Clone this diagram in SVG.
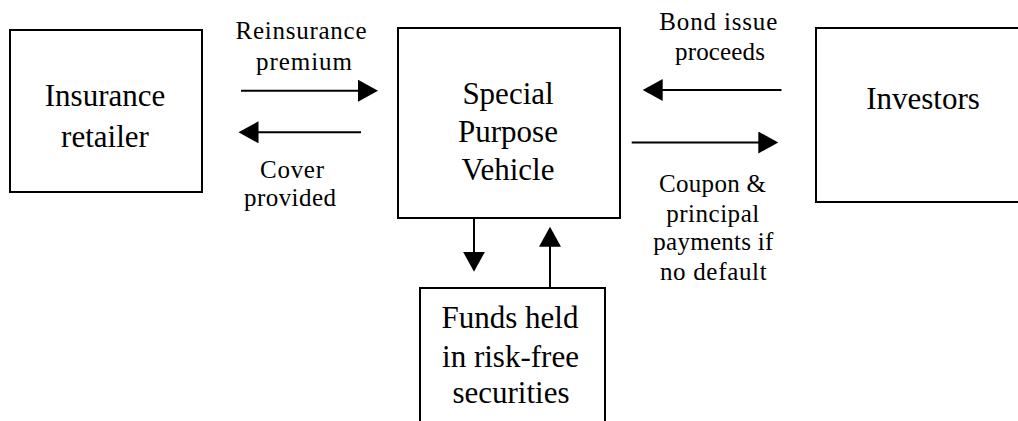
<svg xmlns="http://www.w3.org/2000/svg" width="1018" height="421" viewBox="0 0 1018 421">
<style>
.box{fill:#fff;stroke:#000;stroke-width:2}
.bt{font-family:"Liberation Serif","Times New Roman",serif;font-size:31px;fill:#000;text-anchor:middle}
.lb{font-family:"Liberation Serif","Times New Roman",serif;font-size:25px;fill:#000;text-anchor:middle}
.ar{stroke:#000;stroke-width:2;fill:none;marker-end:url(#ah)}
</style>
<defs>
<marker id="ah" markerUnits="userSpaceOnUse" markerWidth="22" markerHeight="24" refX="1" refY="11" orient="auto">
<path d="M0,0 L20,11 L0,22 z" fill="#000"/>
</marker>
</defs>
<rect width="1018" height="421" fill="#fff"/>
<g id="insurance-retailer">
<rect class="box" x="10" y="30" width="192" height="162"/>
<text class="bt" x="105" y="106">Insurance</text>
<text class="bt" x="105" y="147">retailer</text>
</g>
<g id="spv">
<rect class="box" x="398" y="28" width="222" height="190"/>
<text class="bt" x="508" y="104">Special</text>
<text class="bt" x="508" y="142">Purpose</text>
<text class="bt" x="508" y="180">Vehicle</text>
</g>
<g id="investors">
<rect class="box" x="816" y="28" width="220" height="174"/>
<text class="bt" x="923" y="109">Investors</text>
</g>
<g id="funds">
<rect class="box" x="420" y="288" width="185" height="200"/>
<text class="bt" x="510" y="328">Funds held</text>
<text class="bt" x="510.5" y="367">in risk-free</text>
<text class="bt" x="511" y="403">securities</text>
</g>
<g id="connectors">
<line class="ar" x1="241" y1="90.7" x2="359" y2="90.7"/>
<line class="ar" x1="361" y1="132.3" x2="257.5" y2="132.3"/>
<line class="ar" x1="781.5" y1="90" x2="661.7" y2="90"/>
<line class="ar" x1="631.7" y1="142.5" x2="759.3" y2="142.5"/>
<line class="ar" x1="474" y1="218" x2="474" y2="252.7"/>
<line class="ar" x1="550" y1="287" x2="550" y2="245.7"/>
</g>
<g id="labels">
<text class="lb" x="301" y="38.5" textLength="131" lengthAdjust="spacing">Reinsurance</text>
<text class="lb" x="304" y="70" textLength="96" lengthAdjust="spacing">premium</text>
<text class="lb" x="292" y="178.3" textLength="64" lengthAdjust="spacing">Cover</text>
<text class="lb" x="290" y="206" textLength="92" lengthAdjust="spacing">provided</text>
<text class="lb" x="718.3" y="30" textLength="118" lengthAdjust="spacing">Bond issue</text>
<text class="lb" x="720" y="60" textLength="90" lengthAdjust="spacing">proceeds</text>
<text class="lb" x="712.5" y="191.7" textLength="107" lengthAdjust="spacing">Coupon &amp;</text>
<text class="lb" x="712.7" y="221.7" textLength="93" lengthAdjust="spacing">principal</text>
<text class="lb" x="713.3" y="250" textLength="120" lengthAdjust="spacing">payments if</text>
<text class="lb" x="713.3" y="280" textLength="106.7" lengthAdjust="spacing">no default</text>
</g>
</svg>
